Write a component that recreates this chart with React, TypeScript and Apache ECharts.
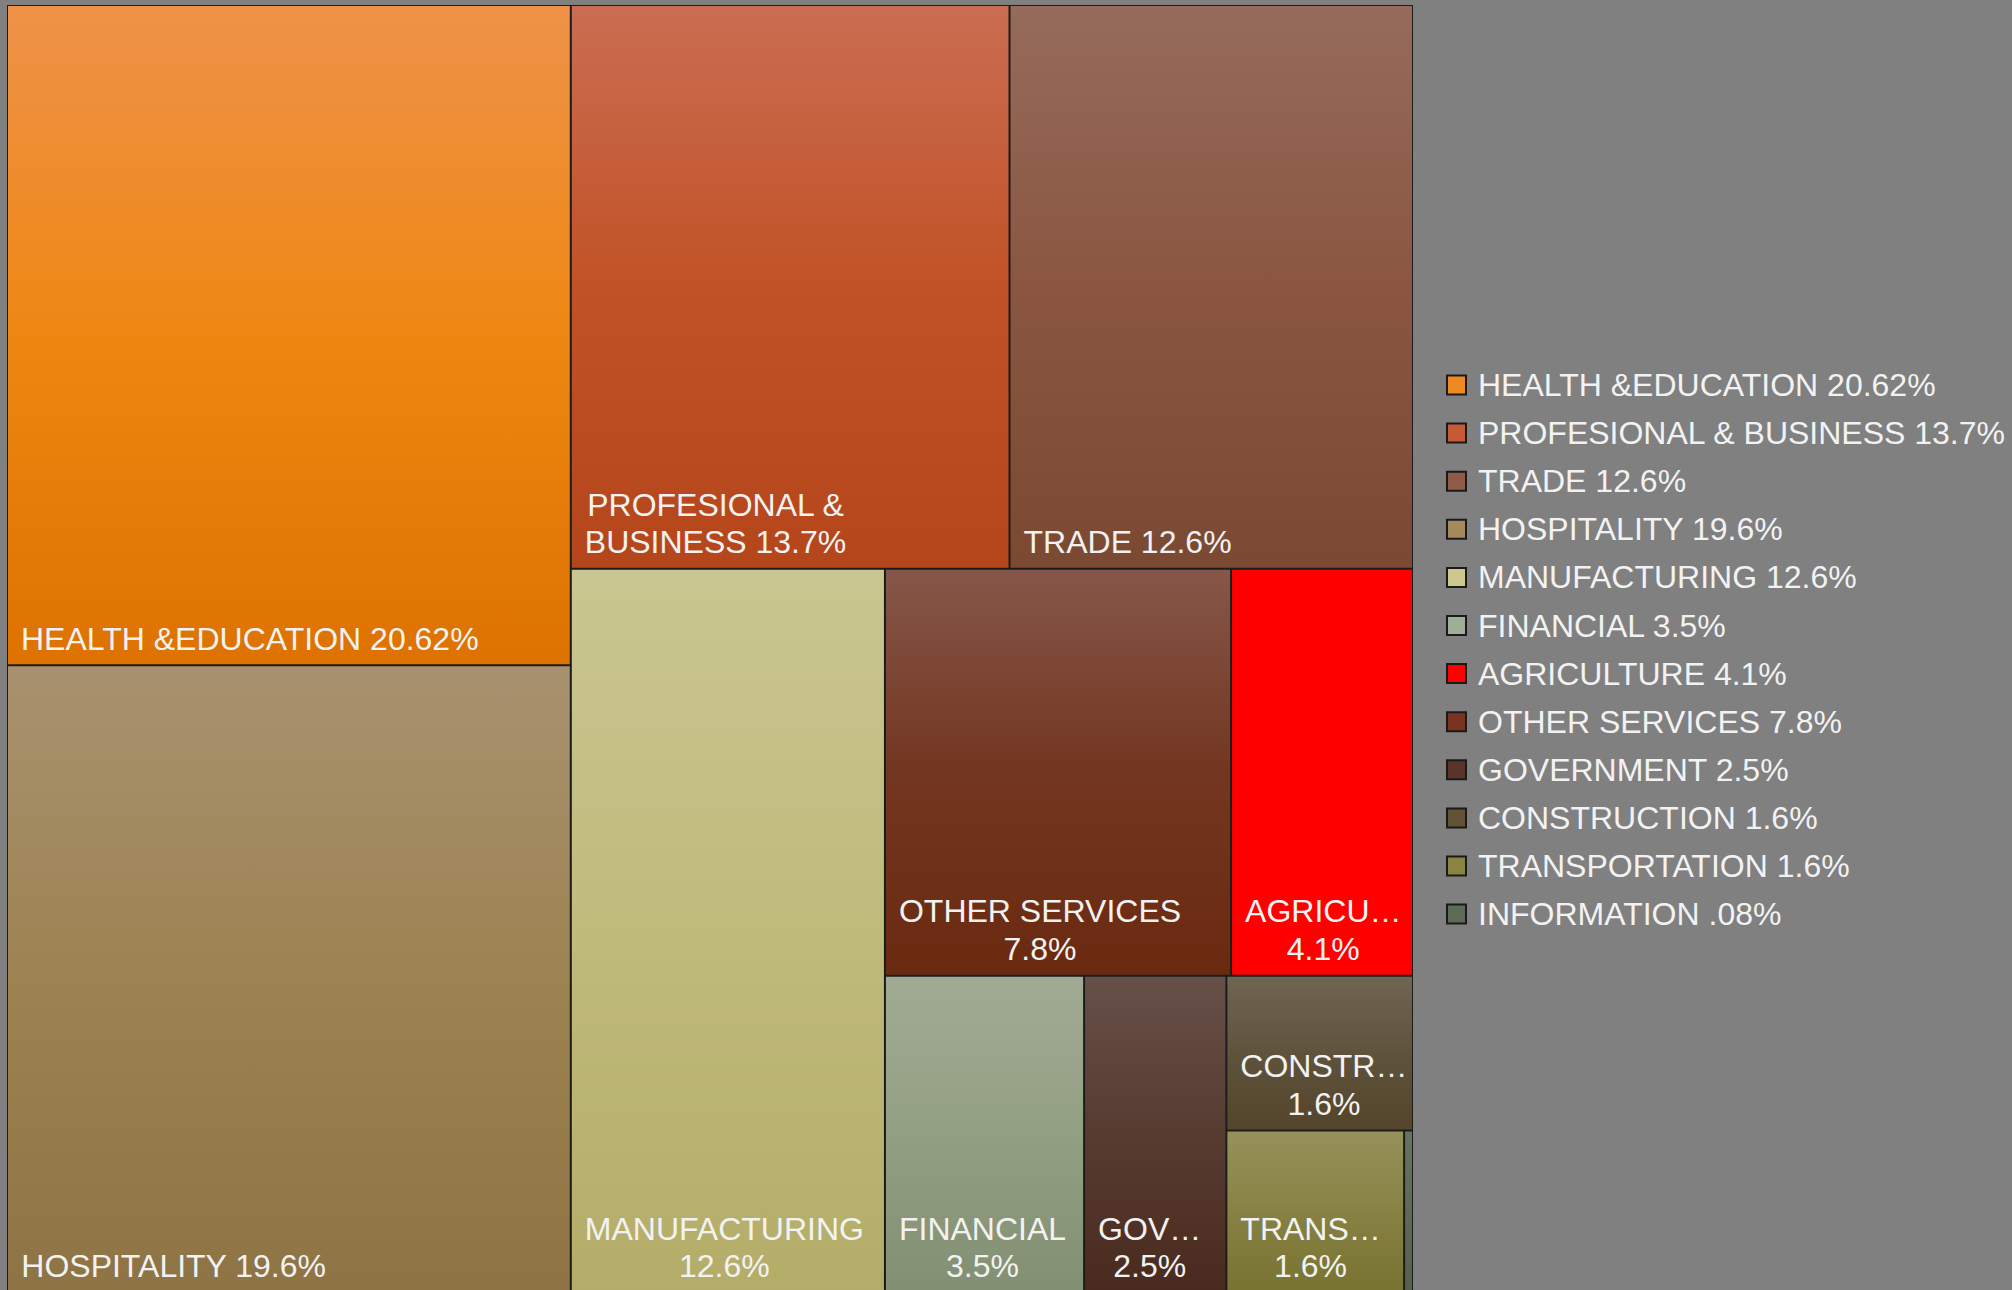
import React, { useEffect, useRef } from "react";
import * as echarts from "echarts";

// ---- data ----
const categories = [
  "HEALTH &EDUCATION",
  "PROFESIONAL & BUSINESS",
  "TRADE",
  "HOSPITALITY",
  "MANUFACTURING",
  "FINANCIAL",
  "AGRICULTURE",
  "OTHER SERVICES",
  "GOVERNMENT",
  "CONSTRUCTION",
  "TRANSPORTATION",
  "INFORMATION",
];
const values = [20.62, 13.7, 12.6, 19.6, 12.6, 3.5, 4.1, 7.8, 2.5, 1.6, 1.6, 0.08];
const percentLabels = ["20.62%", "13.7%", "12.6%", "19.6%", "12.6%", "3.5%", "4.1%", "7.8%", "2.5%", "1.6%", "1.6%", ".08%"];
// text shown inside each tile (as wrapped / truncated in the reference)
const tileNames = [
  "HEALTH &EDUCATION",
  "PROFESIONAL &\nBUSINESS",
  "TRADE",
  "HOSPITALITY",
  "MANUFACTURING",
  "FINANCIAL",
  "AGRICU…",
  "OTHER SERVICES",
  "GOV…",
  "CONSTR…",
  "TRANS…",
  "",
];
const percentOnNewLine = [false, false, false, false, true, true, true, true, true, true, true, false];

const legendColors = [
  "#ef8a22", "#c75a36", "#8f5b48", "#a58a60", "#cdc98c", "#a1ae97",
  "#ff0000", "#7a3320", "#5a3428", "#625238", "#8a8442", "#5d6a55",
];
// vertical gradient stops (top -> bottom) per tile
const tileGradients: string[][] = [
  ["#ef9249", "#ee8712", "#dd7200"],
  ["#ca6d52", "#c15226", "#b5451a"],
  ["#966b5b", "#8a5641", "#7b4931"],
  ["#a8916f", "#9d8352", "#8e7344"],
  ["#c9c691", "#c0ba7b", "#b4ad69"],
  ["#a1ab93", "#939f83", "#838f73"],
  ["#ff0000", "#ff0000", "#ff0000"],
  ["#855749", "#733620", "#6a2a10"],
  ["#665048", "#573b31", "#4a2a1e"],
  ["#6e6553", "#5f533c", "#54452b"],
  ["#969159", "#878244", "#787330"],
  ["#66735f", "#5e6a55", "#56614c"],
];
// nesting of categories (indices) that reproduces the reference arrangement
const layoutTree: any[] = [[0, 3], [1, 2, [4, [[7, 6], [5, 8, [9, [10, 11]]]]]]];

const FONT_SIZE = 32;
const FONT_FAMILY = "Liberation Sans";

function measure(text: string): number {
  const c = document.createElement("canvas");
  const ctx = c.getContext("2d");
  if (!ctx) return 0;
  ctx.font = `${FONT_SIZE}px "${FONT_FAMILY}"`;
  return Math.max(0, ...text.split("\n").map((l) => ctx.measureText(l).width));
}

function leaf(i: number) {
  const text = tileNames[i] ? tileNames[i] + (percentOnNewLine[i] ? "\n" : " ") + percentLabels[i] : "";
  const stops = tileGradients[i];
  return {
    name: categories[i],
    value: values[i],
    itemStyle: {
      color: {
        type: "linear",
        x: 0,
        y: 0,
        x2: 0,
        y2: 1,
        colorStops: stops.map((c, k) => ({ offset: k / (stops.length - 1), color: c })),
      },
      borderWidth: 1,
      borderColor: "#1c1c1c",
    },
    label: text
      ? { show: true, formatter: text, align: "center", offset: [measure(text) / 2 + 2, 4] }
      : { show: false },
  };
}

function build(node: any): any {
  if (typeof node === "number") return leaf(node);
  return { name: "", children: node.map(build) };
}

export default function App() {
  const ref = useRef<HTMLDivElement>(null);
  useEffect(() => {
    if (!ref.current) return;
    const chart = echarts.init(ref.current, undefined, { renderer: "svg" });
    const legendTop = 385;
    const legendStep = 48.1;
    const legendGraphics: any[] = [];
    categories.forEach((name, i) => {
      const cy = legendTop + i * legendStep;
      legendGraphics.push({
        type: "rect",
        shape: { x: 1447, y: cy - 9.5, width: 19, height: 19 },
        style: { fill: legendColors[i], stroke: "#1a1a1a", lineWidth: 2 },
      });
      legendGraphics.push({
        type: "text",
        x: 1478,
        y: cy,
        style: {
          text: `${name} ${percentLabels[i]}`,
          fontSize: FONT_SIZE,
          fontFamily: FONT_FAMILY,
          fill: "#f2f2f2",
          align: "left",
          verticalAlign: "middle",
        },
      });
    });

    chart.setOption({
      animation: false,
      backgroundColor: "#808080",
      graphic: legendGraphics,
      series: [
        {
          type: "treemap",
          left: 7,
          top: 5,
          width: 1406,
          height: 1288,
          sort: false,
          squareRatio: 1,
          roam: false,
          nodeClick: false,
          breadcrumb: { show: false },
          visibleMin: 1,
          itemStyle: { borderWidth: 0, gapWidth: 0, borderColor: "#1c1c1c" },
          label: {
            show: true,
            position: "insideBottomLeft",
            distance: 11,
            padding: 0,
            color: "#f2f2f2",
            fontSize: FONT_SIZE,
            fontFamily: FONT_FAMILY,
            lineHeight: 37.5,
            overflow: "none",
          },
          upperLabel: { show: false },
          emphasis: { disabled: true },
          data: layoutTree.map(build),
        },
      ],
    });
    return () => chart.dispose();
  }, []);
  return (
    <div
      ref={ref}
      style={{ position: "fixed", left: 0, top: 0, width: 2012, height: 1290, background: "#808080" }}
    />
  );
}
